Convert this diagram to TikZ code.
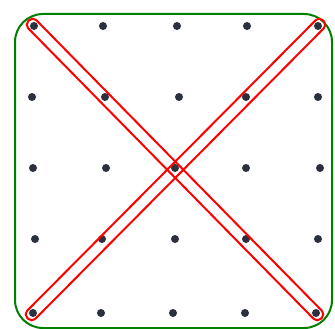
\documentclass[tikz,border=0pt]{standalone}
\usetikzlibrary{calc}
\definecolor{dotcol}{RGB}{42,48,62}
\begin{document}
\begin{tikzpicture}[x=1pt,y=-1pt,
  dot/.style={circle,fill=dotcol,inner sep=0pt,minimum size=8pt},
  frame/.style={draw=green!50!black,line width=2pt,rounded corners=28pt},
  band/.style={draw=red,line width=2pt,rounded corners=5pt,inner sep=0pt,minimum height=11.5pt}]
\useasboundingbox (0,0) rectangle (335,329);
\draw[frame] (15,14) rectangle (332,328);
% dots
\foreach \r/\y/\xa/\xb/\xc/\xd/\xe in {1/26/34/103/177/247/318, 2/97/32/105/179/246/318, 3/168/33/106/175/246/320, 4/239/35/102/175/246/318, 5/313/33/101/173/245/316}{
  \node[dot] (d\r-1) at (\xa,\y) {};
  \node[dot] (d\r-2) at (\xb,\y) {};
  \node[dot] (d\r-3) at (\xc,\y) {};
  \node[dot] (d\r-4) at (\xd,\y) {};
  \node[dot] (d\r-5) at (\xe,\y) {};
}
\path let \p1=($(d5-5.center)-(d1-1.center)$), \n1={atan2(\y1,\x1)}, \n2={veclen(\x1,\y1)} in
  node[band,rotate=\n1,minimum width=\n2+15pt] (b1) at ($(d1-1.center)!0.5!(d5-5.center)$) {};
\path let \p1=($(d5-1.center)-(d1-5.center)$), \n1={atan2(\y1,\x1)}, \n2={veclen(\x1,\y1)} in
  node[band,rotate=\n1,minimum width=\n2+15pt] (b2) at ($(d1-5.center)!0.5!(d5-1.center)$) {};
\end{tikzpicture}
\end{document}
